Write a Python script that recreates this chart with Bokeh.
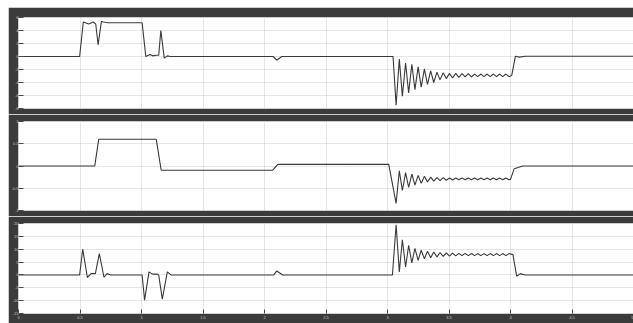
from bokeh.plotting import figure
from bokeh.layouts import column, row
from bokeh.models import Range1d, FixedTicker, Label, Spacer
from bokeh.embed import file_html
from bokeh.resources import INLINE

# ---------------- data ----------------
x_ticks = [0, 0.5, 1, 1.5, 2, 2.5, 3, 3.5, 4, 4.5, 5]
x_tick_labels = ["0", "0.5", "1", "1.5", "2", "2.5", "3", "3.5", "4", "4.5", "5"]

y1_ticks = [-8, -6, -4, -2, 0, 2, 4, 6]
y1_labels = ["-8", "-6", "-4", "-2", "0", "2", "4", "6"]
y2_ticks = [-1, -0.5, 0, 0.5, 1]
y2_labels = ["-1", "-0.5", "0", "0.5", "1"]
y3_ticks = [-15, -10, -5, 0, 5, 10, 15, 20]
y3_labels = ["-15", "-10", "-5", "0", "5", "10", "15", "20"]

# damped oscillation extremes after the event at t ~ 3 s
osc_t = [3.070, 3.096, 3.121, 3.147, 3.172, 3.198, 3.223, 3.249, 3.274, 3.300,
         3.325, 3.351, 3.376, 3.402, 3.427, 3.453, 3.478, 3.504, 3.529, 3.555,
         3.580, 3.606, 3.631, 3.657, 3.682, 3.708, 3.733, 3.759, 3.784, 3.810,
         3.835, 3.861, 3.886, 3.912, 3.937, 3.963, 3.988]

# signal 1 (x1e4)
s1_pre_t = [0, 0.497, 0.527, 0.571, 0.606, 0.628, 0.647, 0.674, 0.69, 0.728,
            1.005, 1.035, 1.07, 1.09, 1.12, 1.14, 1.157, 1.185, 1.21, 1.235,
            2.07, 2.10, 2.14, 3.045]
s1_pre_v = [0, 0, 5.3, 5.0, 5.3, 5.0, 1.8, 5.4, 5.3, 5.2,
            5.2, 0.0, 0.3, 0.1, 0.2, 0.2, 4.0, -0.25, 0.1, 0,
            0, -0.57, 0, 0]
s1_osc = [-7.5, -0.4, -6.1, -1.0, -5.6, -1.2, -5.1, -1.6, -4.7, -1.9,
          -4.3, -2.2, -4.0, -2.4, -3.6, -2.5, -3.4, -2.6, -3.3, -2.6,
          -3.2, -2.65, -3.15, -2.65, -3.15, -2.7, -3.1, -2.7, -3.1, -2.7,
          -3.1, -2.7, -3.1, -2.7, -3.1, -2.7, -3.1]
s1_post_t = [4.01, 4.04, 4.07, 4.12, 5.0]
s1_post_v = [-2.9, 0.05, -0.1, 0.05, 0.05]

# signal 2 (x1e-3)
s2_pre_t = [0, 0.62, 0.652, 1.12, 1.16, 2.067, 2.108, 3.01]
s2_pre_v = [0, 0, 0.6, 0.6, -0.095, -0.095, 0.037, 0.037]
s2_osc = [-0.84, -0.11, -0.55, -0.15, -0.48, -0.18, -0.43, -0.21, -0.39, -0.23,
          -0.36, -0.25, -0.34, -0.26, -0.33, -0.26, -0.32, -0.27, -0.315, -0.27,
          -0.31, -0.27, -0.31, -0.27, -0.31, -0.27, -0.31, -0.27, -0.31, -0.27,
          -0.31, -0.27, -0.31, -0.27, -0.31, -0.27, -0.31]
s2_post_t = [4.0, 4.03, 4.1, 5.0]
s2_post_v = [-0.3, -0.06, 0.0, 0.0]

# signal 3
s3_pre_t = [0, 0.497, 0.522, 0.56, 0.59, 0.625, 0.657, 0.695, 0.72, 0.75,
            1.005, 1.025, 1.061, 1.09, 1.13, 1.14, 1.169, 1.21, 1.24,
            2.075, 2.10, 2.148, 3.04]
s3_pre_v = [0, 0, 10, -1.0, 0.5, 0.5, 8.3, -0.9, 0.5, 0,
            0, -9.8, 1.2, 0.3, 0.3, -0.1, -9.4, 1.2, 0,
            0, 1.55, 0, 0]
s3_osc = [19.5, 1.2, 13.7, 3.1, 11.5, 4.7, 10.3, 5.7, 9.6, 6.3,
          9.2, 6.7, 8.9, 7.0, 8.7, 7.2, 8.6, 7.3, 8.5, 7.4,
          8.4, 7.5, 8.4, 7.5, 8.3, 7.5, 8.3, 7.5, 8.3, 7.5,
          8.3, 7.5, 8.3, 7.5, 8.3, 7.5, 8.3]
s3_post_t = [4.02, 4.05, 4.08, 4.12, 5.0]
s3_post_v = [7.9, -0.5, 0.5, 0, 0]

# ---------------- styling ----------------
FRAME = "#3b3b3b"
LINE = "#3a3a3a"
GRID = "#cdcdcd"
TXT = "#c8c8c8"
TICK = "#4a4a4a"
FONT = "Liberation Sans"
FS = "4px"

xr = Range1d(0, 5)


def make_panel(height, top, bottom, yrange, yticks, ylabels, show_x, t, v):
    p = figure(width=625, height=height, x_range=xr, y_range=Range1d(*yrange),
               output_backend="svg", toolbar_location=None,
               min_border_left=9, min_border_right=0,
               min_border_top=top, min_border_bottom=bottom,
               background_fill_color="white", border_fill_color=FRAME,
               outline_line_color=None)
    xt = FixedTicker(ticks=x_ticks)
    yt = FixedTicker(ticks=yticks)

    ya = p.yaxis[0]
    ya.ticker = yt
    ya.major_label_overrides = dict(zip(yticks, ylabels))
    ya.major_label_text_font_size = FS
    ya.major_label_text_font = FONT
    ya.major_label_text_color = TXT
    ya.major_label_standoff = 0
    ya.major_tick_in = 5
    ya.major_tick_out = 0
    ya.minor_tick_line_color = None
    ya.axis_line_color = None
    ya.major_tick_line_color = TICK

    xa = p.xaxis[0]
    xa.ticker = xt
    xa.major_tick_in = 4
    xa.major_tick_out = 0
    xa.minor_tick_line_color = None
    xa.axis_line_color = None
    xa.major_tick_line_color = TICK
    if show_x:
        xa.major_label_overrides = dict(zip(x_ticks, x_tick_labels))
        xa.major_label_text_font = FONT
        xa.major_label_text_color = TXT
        xa.major_label_text_font_size = FS
        xa.major_label_standoff = 2
    else:
        xa.visible = False

    p.xgrid.ticker = xt
    p.ygrid.ticker = yt
    for g in (p.xgrid, p.ygrid):
        g.grid_line_color = GRID
        g.grid_line_dash = "1 1"
        g.grid_line_width = 1

    p.line(t, v, line_color=LINE, line_width=1.1)
    return p


t1 = s1_pre_t + osc_t + s1_post_t
v1 = s1_pre_v + s1_osc + s1_post_v
t2 = s2_pre_t + osc_t + s2_post_t
v2 = s2_pre_v + s2_osc + s2_post_v
t3 = s3_pre_t + osc_t + s3_post_t
v3 = s3_pre_v + s3_osc + s3_post_v
assert len(t1) == len(v1) and len(t2) == len(v2) and len(t3) == len(v3)

p1 = make_panel(107, 10, 6, (-8, 6), y1_ticks, y1_labels, False, t1, v1)
p2 = make_panel(102, 7, 6, (-1, 1), y2_ticks, y2_labels, False, t2, v2)
p3 = make_panel(107, 7, 10, (-15, 20), y3_ticks, y3_labels, True, t3, v3)

p1.add_layout(Label(x=0, y=6, x_offset=-4, y_offset=2, text="×10⁴",
                    text_font_size=FS, text_font=FONT, text_color=TXT,
                    text_baseline="bottom"))
p2.add_layout(Label(x=0, y=1, x_offset=-4, y_offset=2, text="×10⁻³",
                    text_font_size=FS, text_font=FONT, text_color=TXT,
                    text_baseline="bottom"))

layout = column(Spacer(height=7, width=633),
                row(Spacer(width=8, height=316), column(p1, p2, p3, spacing=0), spacing=0),
                spacing=0)

open("out.html", "w").write(file_html(layout, INLINE))
